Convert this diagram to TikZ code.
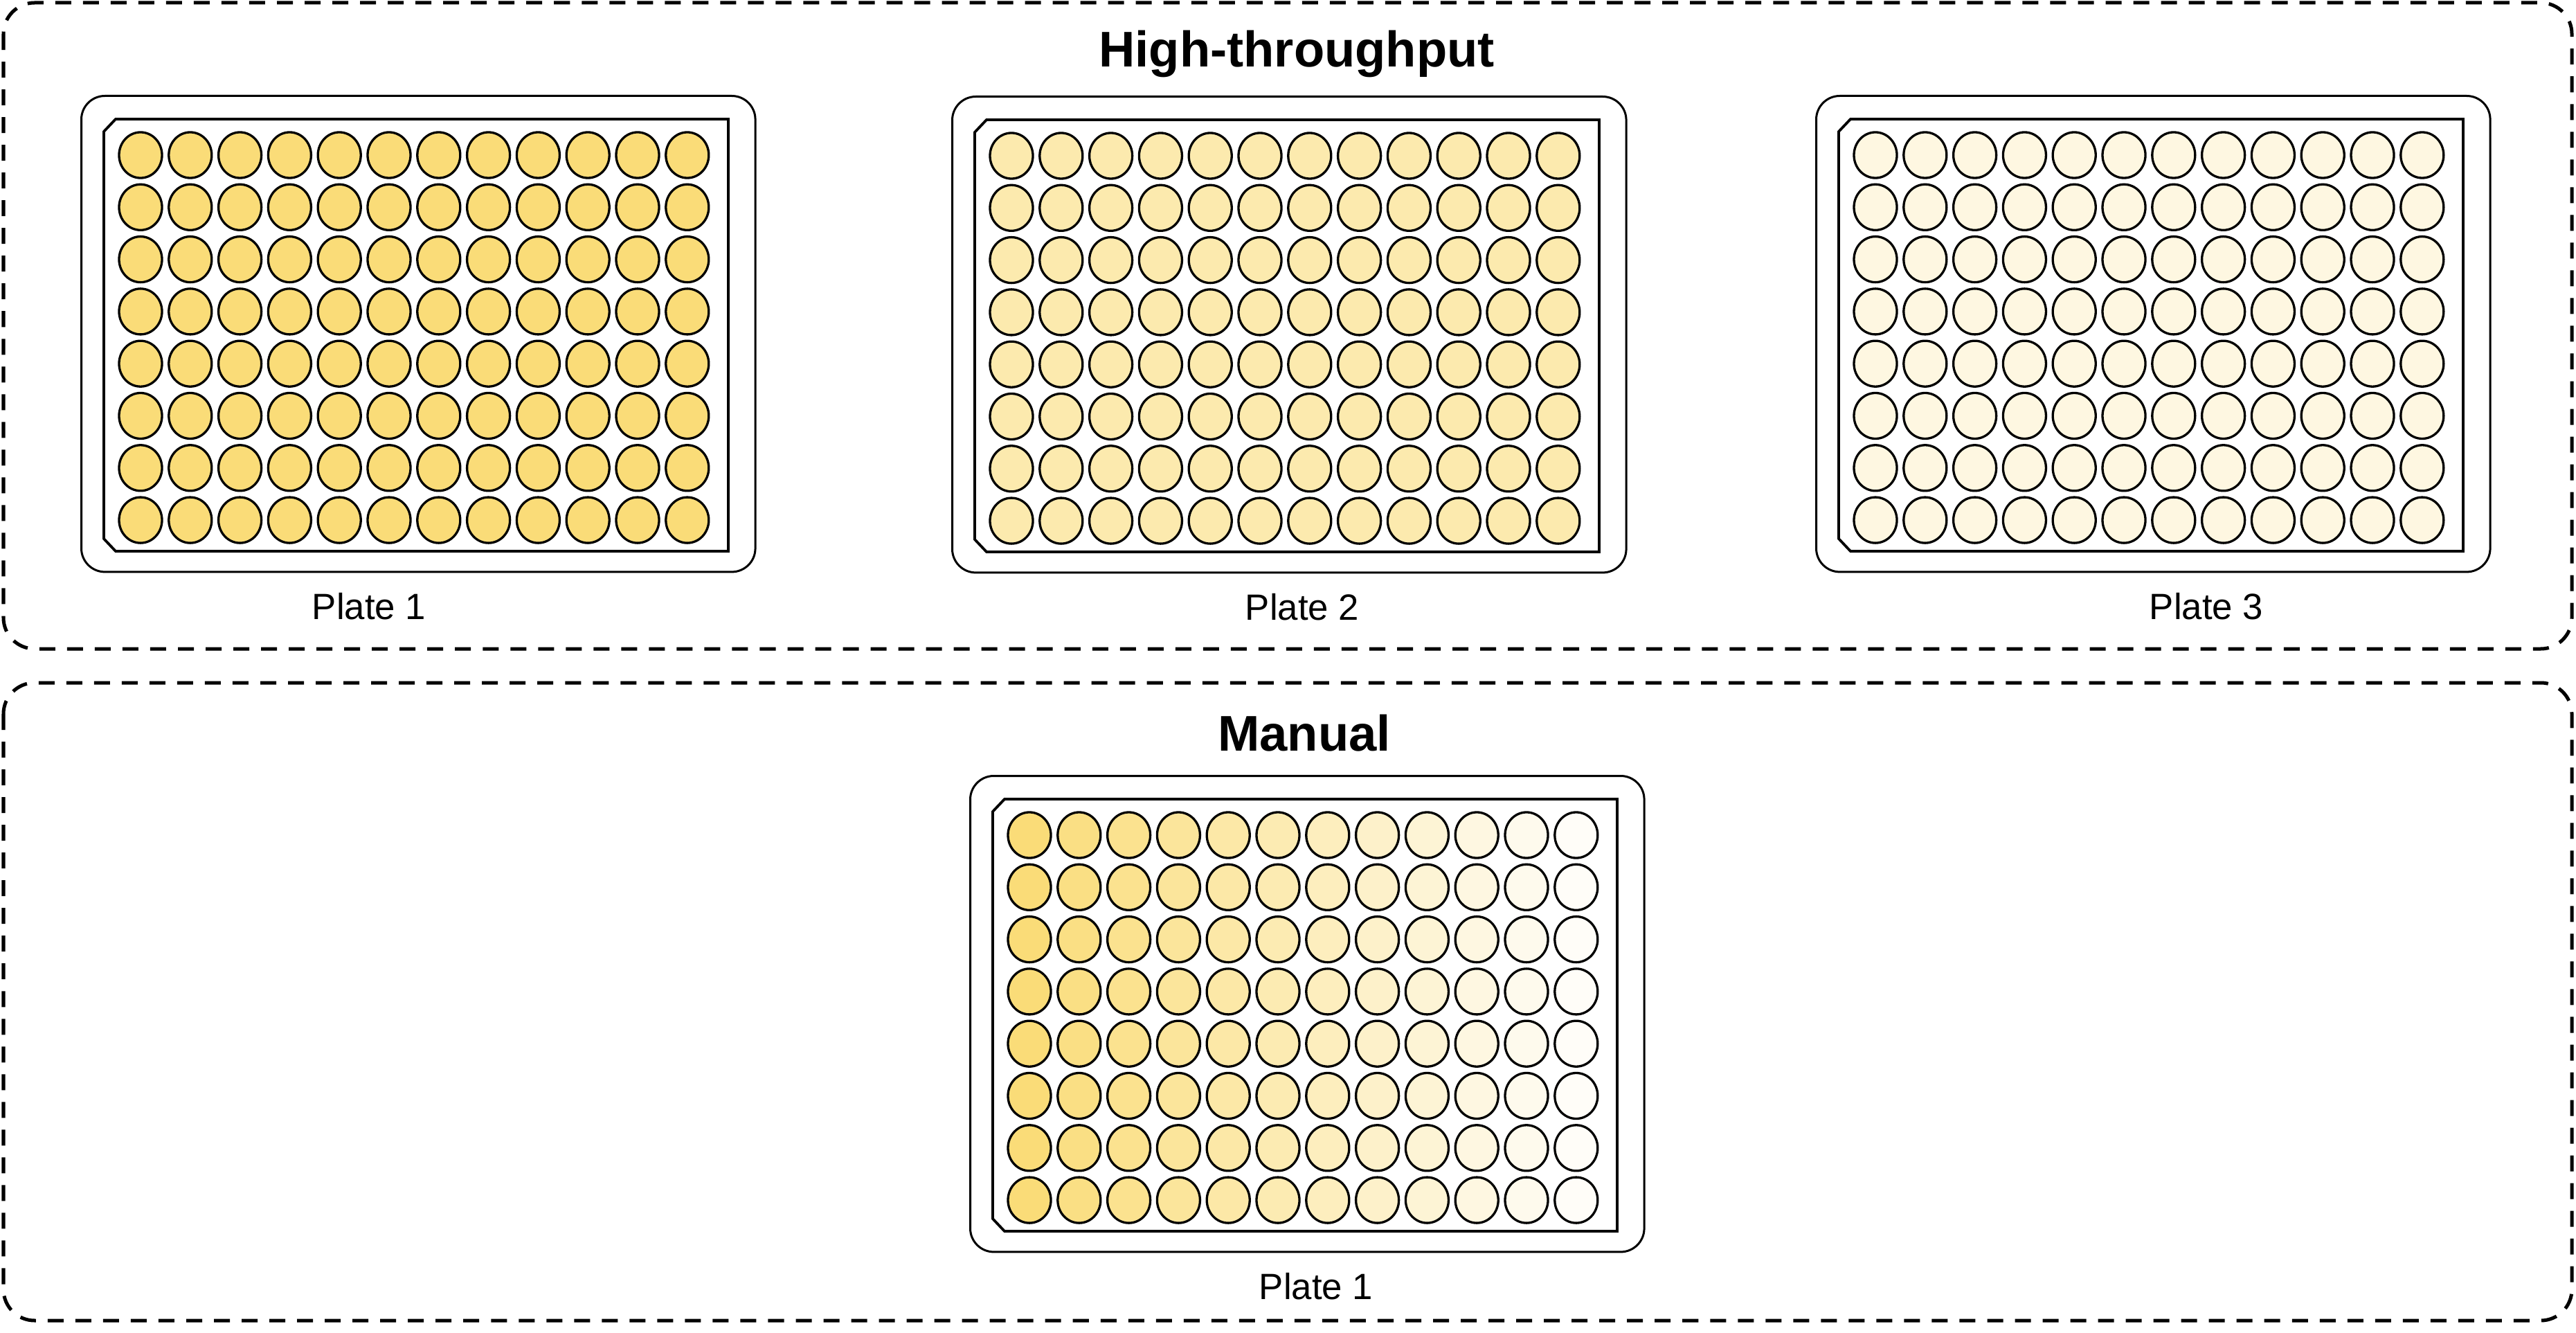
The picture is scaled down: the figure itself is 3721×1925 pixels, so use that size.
\documentclass[tikz,border=0pt]{standalone}
\usepackage{fontspec}
\setmainfont{Liberation Sans}
\usetikzlibrary{shapes.geometric,positioning}
\definecolor{WY}{HTML}{FADC78}

\tikzset{
  grpbox/.style={draw, line width=0.05cm, dash pattern=on 0.23cm off 0.17cm, rounded corners=0.45cm},
  platebox/.style={draw, line width=0.03cm, rounded corners=0.34cm,
                   minimum width=9.73cm, minimum height=6.87cm, inner sep=0pt, anchor=north west},
  frame/.style={draw, line width=0.038cm},
  well/.style={ellipse, draw, line width=0.033cm, minimum width=0.62cm, minimum height=0.66cm, inner sep=0pt},
  ttl/.style={font=\fontsize{20.6}{24}\selectfont\bfseries, anchor=base},
  lbl/.style={font=\fontsize{15}{18}\selectfont, anchor=base}
}

% name, x, y, first column %, last column %, label shift, label
\newcommand{\drawplate}[7]{%
  \node[platebox] (#1) at (#2,#3) {};
  \draw[frame] ({#2+34},{#3+53}) -- ({#2+51},{#3+35}) -- ({#2+936},{#3+35})
    -- ({#2+936},{#3+659}) -- ({#2+51},{#3+659}) -- ({#2+34},{#3+641}) -- cycle;
  \foreach \c in {1,...,12}{
    \pgfmathsetmacro\pct{#4+(#5-#4)*(\c-1)/11}
    \foreach \r in {1,...,8}
      \node[well, fill=WY!\pct] (#1-\r-\c) at ({#2+87+71.8*(\c-1)},{#3+87+75.3*(\r-1)}) {};
  }
  \node[lbl] (#1-lbl) at ({#2+486+#6},{#3+757}) {#7};
}

\begin{document}
\begin{tikzpicture}[x=0.01cm, y=-0.01cm]
  \useasboundingbox (0,0) rectangle (3721,1925);

  % high-throughput
  \draw[grpbox] (5,4) rectangle (3715,937);
  \node[ttl] (t-ht) at (1873,97) {High-throughput};
  \drawplate{ht1}{116}{137}{100}{100}{-69}{Plate 1}
  \drawplate{ht2}{1374}{138}{60}{60}{21}{Plate 2}
  \drawplate{ht3}{2622}{137}{22}{22}{79}{Plate 3}

  % manual
  \draw[grpbox] (5,986) rectangle (3715,1907);
  \node[ttl] (t-man) at (1884,1084) {Manual};
  \drawplate{man1}{1400}{1119}{100}{5}{15}{Plate 1}
\end{tikzpicture}
\end{document}
